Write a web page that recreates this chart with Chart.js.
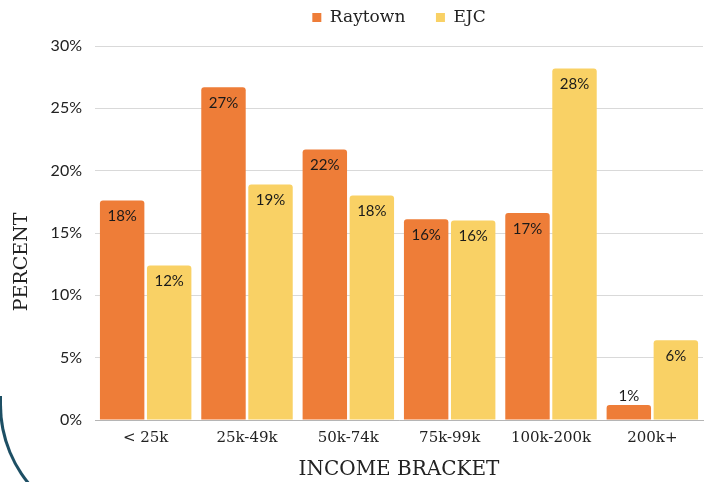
<!DOCTYPE html>
<html>
<head>
<meta charset="utf-8">
<script src="https://cdn.jsdelivr.net/npm/chart.js@4"></script>
<style>
  html, body { margin: 0; padding: 0; background: #fff; overflow: hidden; }
  #cadre { position: relative; width: 710px; height: 482px; }
  #arc {
    position: absolute; left: -1.5px; top: 396px; width: 400px; height: 134px;
    border-left: 3px solid #1d4f64; border-bottom: 3px solid #1d4f64;
    border-bottom-left-radius: 125px; box-sizing: border-box;
  }
  canvas { position: absolute; left: 0; top: 0; }
</style>
</head>
<body>
<div id="cadre">
  <div id="arc"></div>
  <canvas id="graphique" width="710" height="482"></canvas>
</div>
<script>
// Données
const tranches = ['< 25k', '25k-49k', '50k-74k', '75k-99k', '100k-200k', '200k+'];
const raytown = [17.6, 26.7, 21.7, 16.1, 16.6, 1.2];
const ejc = [12.4, 18.9, 18.0, 16.0, 28.2, 6.4];
const graduations = [0, 5, 10, 15, 20, 25, 30];

const serif = "'DejaVu Serif', serif";
const sans = "Lato, 'Noto Sans', sans-serif";

// étiquettes de valeur en haut des barres + titre vertical
const etiquettes = {
    id: 'etiquettes',
    beforeInit(chart) {
        // un peu plus d'espace sous la légende
        const fitOrig = chart.legend.fit;
        chart.legend.fit = function () {
            fitOrig.bind(chart.legend)();
            this.height += 10;
        };
    },
    afterDatasetsDraw(chart) {
        const ctx = chart.ctx;
        ctx.save();
        ctx.font = '15px ' + sans;
        ctx.fillStyle = '#1a1a1a';
        ctx.textAlign = 'center';
        ctx.textBaseline = 'middle';
        chart.data.datasets.forEach((ds, i) => {
            chart.getDatasetMeta(i).data.forEach((barre, j) => {
                const texte = Math.round(ds.data[j]) + '%';
                const hauteur = barre.base - barre.y;
                const y = hauteur > 28 ? barre.y + 16 : barre.y - 9;
                ctx.fillText(texte, barre.x, y);
            });
        });
        // titre de l'axe Y
        ctx.font = '19px ' + serif;
        ctx.fillStyle = '#222';
        ctx.translate(22, 262);
        ctx.rotate(-Math.PI / 2);
        ctx.fillText('PERCENT', 0, 0);
        ctx.restore();
    }
};

new Chart(document.getElementById('graphique'), {
    type: 'bar',
    data: {
        labels: tranches,
        datasets: [
            { label: 'Raytown', data: raytown, backgroundColor: '#ee7d38' },
            { label: 'EJC', data: ejc, backgroundColor: '#f9d165' }
        ]
    },
    options: {
        responsive: false,
        animation: false,
        layout: { padding: { top: 0, right: 7, bottom: 0, left: 0 } },
        datasets: {
            bar: {
                categoryPercentage: 0.928,
                barPercentage: 0.945,
                borderRadius: { topLeft: 3, topRight: 3 },
                borderSkipped: 'bottom'
            }
        },
        plugins: {
            legend: {
                position: 'top',
                fullSize: false,
                labels: {
                    font: { family: serif, size: 17 },
                    color: '#222',
                    boxWidth: 9,
                    boxHeight: 9,
                    padding: 9,
                    // espace plus large entre les deux entrées
                    generateLabels: chart => {
                        const items = Chart.defaults.plugins.legend.labels.generateLabels(chart);
                        items.forEach((it, i) => { if (i < items.length - 1) it.text += '    '; });
                        return items;
                    }
                }
            },
            tooltip: { enabled: false }
        },
        scales: {
            x: {
                grid: { display: false, drawTicks: false },
                border: { display: true, color: '#b5b5b5' },
                ticks: { font: { family: serif, size: 15 }, color: '#222', padding: 9 },
                title: {
                    display: true, text: 'INCOME BRACKET',
                    font: { family: serif, size: 20 }, color: '#222',
                    padding: { top: 6, bottom: 0 }
                },
                afterFit: s => { s.height = 62; }
            },
            y: {
                min: 0, max: 30,
                afterBuildTicks: s => { s.ticks = graduations.map(v => ({ value: v })); },
                grid: { color: '#d9d9d9', drawTicks: false },
                border: { display: false },
                ticks: { font: { family: sans, size: 16 }, color: '#222', padding: 13, callback: v => v + '%' },
                afterFit: s => { s.width = 95; }
            }
        }
    },
    plugins: [etiquettes]
});
</script>
</body>
</html>
